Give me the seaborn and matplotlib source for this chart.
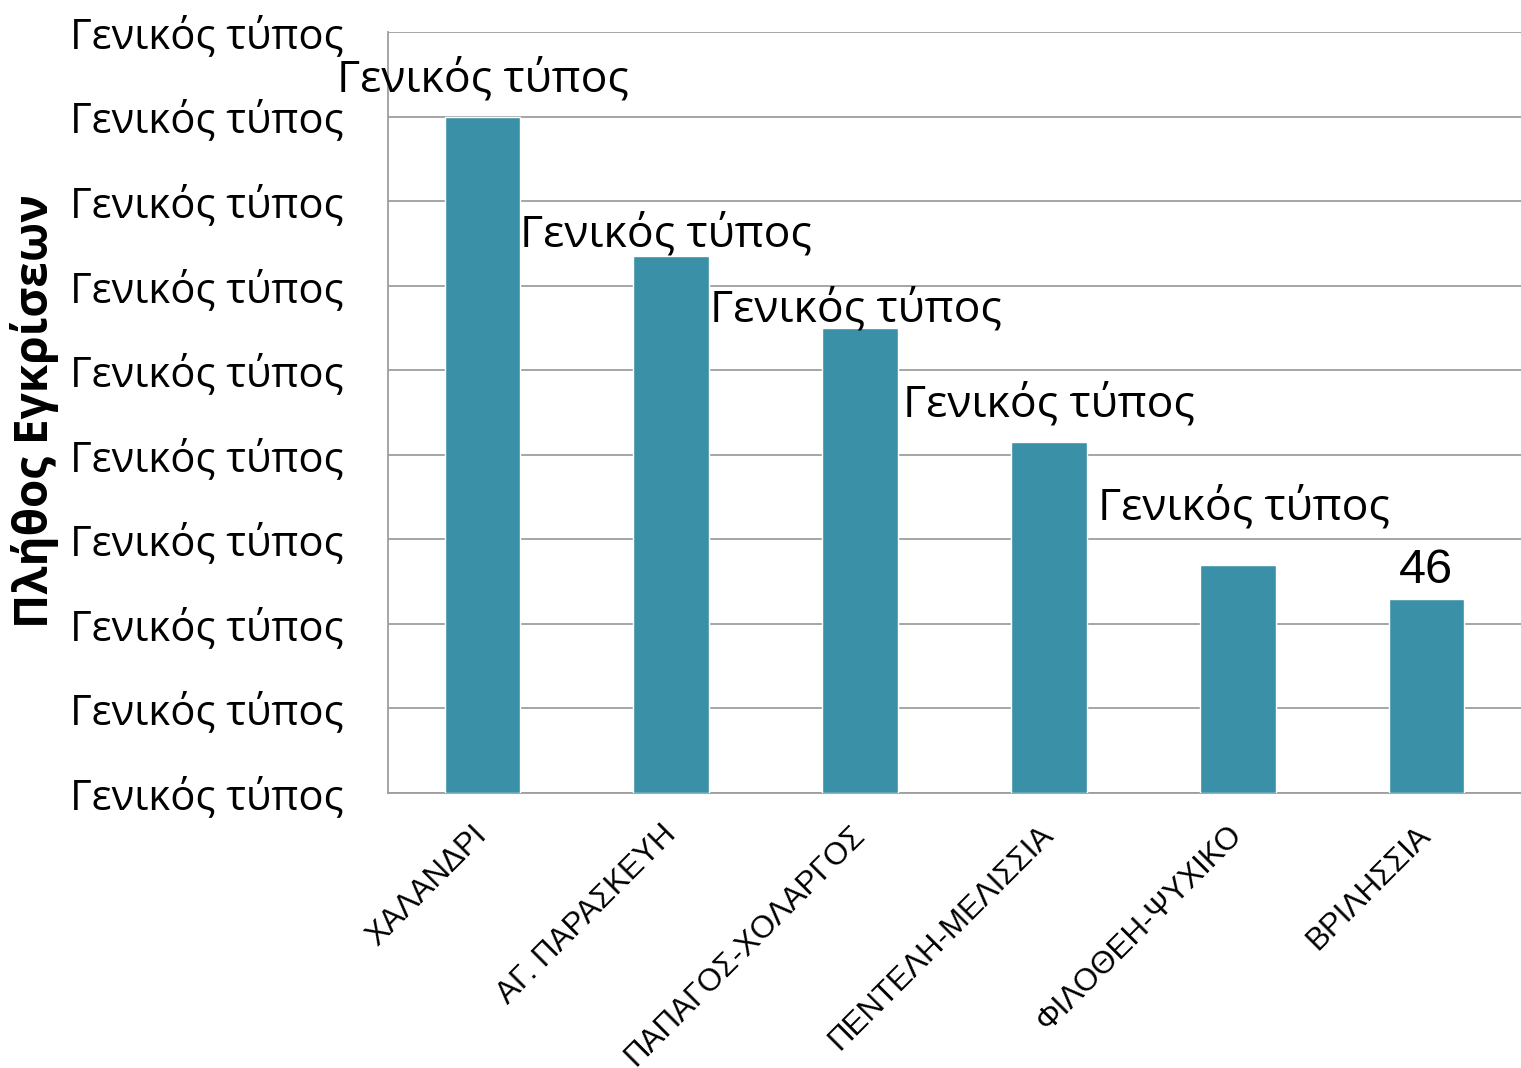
import matplotlib
matplotlib.use("Agg")
import matplotlib.pyplot as plt
import seaborn as sns
import pandas as pd

# ΔΕΔΟΜΕΝΑ
perioxes = ["ΧΑΛΑΝΔΡΙ", "ΑΓ. ΠΑΡΑΣΚΕΥΗ", "ΠΑΠΑΓΟΣ-ΧΟΛΑΡΓΟΣ",
            "ΠΕΝΤΕΛΗ-ΜΕΛΙΣΣΙΑ", "ΦΙΛΟΘΕΗ-ΨΥΧΙΚΟ", "ΒΡΙΛΗΣΣΙΑ"]
egkriseis = [160, 127, 110, 83, 54, 46]
etiketes = ["Γενικός τύπος", "Γενικός τύπος", "Γενικός τύπος",
            "Γενικός τύπος", "Γενικός τύπος", "46"]
y_ticks = [0, 20, 40, 60, 80, 100, 120, 140, 160, 180]
y_tick_labels = ["Γενικός τύπος"] * len(y_ticks)

# μετατοπίσεις ετικετών (pixels), μόνο για στυλ
label_dy = [36, 21, 18, 37, 56, 28]
label_dx = [1, -5, -4, 0, 6, -1]

df = pd.DataFrame({"Περιοχή": perioxes, "Εγκρίσεις": egkriseis})

sns.set_theme(style="white")
plt.rcParams["font.family"] = ["Open Sans", "DejaVu Sans"]
plt.rcParams["text.color"] = "black"
plt.rcParams["xtick.color"] = "black"
plt.rcParams["ytick.color"] = "black"
plt.rcParams["axes.labelcolor"] = "black"

fig = plt.figure(figsize=(15.21, 10.68), dpi=100)
ax = fig.add_axes([388 / 1521, 1 - 793 / 1068, 1 - 388 / 1521, (793 - 32) / 1068])

sns.barplot(data=df, x="Περιοχή", y="Εγκρίσεις", color="#3A91A7",
            width=0.4, saturation=1, ax=ax, zorder=3)

ax.set_ylim(0, 180)
ax.set_yticks(y_ticks)
ax.set_yticklabels(y_tick_labels, fontsize=30)
ax.yaxis.grid(True, color="#9E9E9E", linewidth=1.3, zorder=0)
ax.tick_params(axis="y", length=0, pad=32)
ax.tick_params(axis="x", length=0, pad=27)

ax.set_xticks(range(len(perioxes)))
ax.set_xticklabels(perioxes, rotation=45, ha="right", va="center",
                   rotation_mode="anchor", fontsize=22.5, family="Liberation Sans")

ax.set_xlabel("")
ax.set_ylabel("Πλήθος Εγκρίσεων", fontsize=33, fontweight="bold")
ax.yaxis.set_label_coords(-0.29, 0.502)

for s in ["top", "right"]:
    ax.spines[s].set_visible(False)
for s in ["left", "bottom"]:
    ax.spines[s].set_color("#9E9E9E")
    ax.spines[s].set_linewidth(1.3)

# ΕΤΙΚΕΤΕΣ ΤΙΜΩΝ
for i, (v, t) in enumerate(zip(egkriseis, etiketes)):
    fam = "Liberation Sans" if t.isdigit() else "Open Sans"
    ax.annotate(t, (i, v), xytext=(label_dx[i] * 0.72, label_dy[i] * 0.72),
                textcoords="offset points", ha="center", va="center",
                fontsize=32 if not t.isdigit() else 35, family=fam,
                color="black", zorder=5, annotation_clip=False)

fig.savefig("out.png", dpi=100)
